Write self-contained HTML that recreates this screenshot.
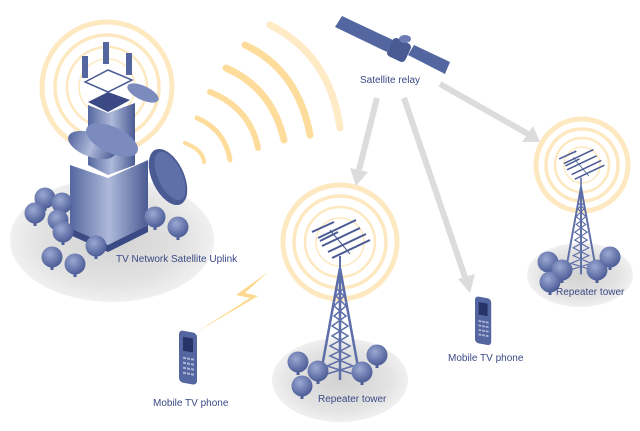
<!DOCTYPE html>
<html><head><meta charset="utf-8"><style>
html,body{margin:0;padding:0;background:#fff;}
svg{display:block}
text{font-family:"Liberation Sans",sans-serif;font-size:10px;fill:#3b4a84}
</style></head><body>
<svg width="640" height="431" viewBox="0 0 640 431" xmlns="http://www.w3.org/2000/svg">
<defs>
<radialGradient id="gnd" cx="50%" cy="50%" r="50%">
<stop offset="0" stop-color="#d2d2d2"/><stop offset="0.7" stop-color="#e2e2e2"/><stop offset="1" stop-color="#f0f0f0"/>
</radialGradient>
<linearGradient id="bl" x1="0" x2="1"><stop offset="0" stop-color="#55679f"/><stop offset="0.5" stop-color="#aeb9da"/><stop offset="1" stop-color="#4a5b93"/></linearGradient>
<radialGradient id="tree" cx="40%" cy="35%" r="65%"><stop offset="0" stop-color="#9aa8d2"/><stop offset="1" stop-color="#4d5e98"/></radialGradient>
<g id="tr"><rect x="-1.5" y="5" width="3" height="8" fill="#4d5e98"/><circle r="10.5" fill="url(#tree)"/></g>
<g id="tower">
<path d="M0,0 L-20,110 M0,0 L20,110 M0,0 L0,112 M-3,10 L3,10" stroke="#5d6ea8" stroke-width="2.5" fill="none"/>
<path d="M-4,20 L4,28 L-6,38 L6,48 L-8,58 L8,68 L-10,78 L10,88 L-13,98 L13,106 M4,20 L-4,28 L6,38 L-6,48 L8,58 L-8,68 L10,78 L-10,88 L13,98 L-13,106" stroke="#5d6ea8" stroke-width="1.5" fill="none"/>
<path d="M0,0 L0,-12" stroke="#5d6ea8" stroke-width="2"/>
<path d="M-22,-30 L16,-48 M-18,-22 L20,-40 M-12,-16 L26,-34 M-8,-10 L30,-28 M-28,-36 L-6,-46 M-20,-27 L-2,-36" stroke="#4a5b93" stroke-width="2" fill="none"/>
<path d="M-10,-38 L10,-14" stroke="#4a5b93" stroke-width="1"/>
</g>
<g id="phone">
<rect x="0" y="0" width="18" height="52" rx="4" fill="#5466a0" transform="skewY(10)"/>
<rect x="4" y="6" width="10" height="14" fill="#27346a" transform="skewY(10)"/>
<g fill="#aab5d8" transform="skewY(10)">
<rect x="4" y="26" width="3" height="2"/><rect x="8" y="26" width="3" height="2"/><rect x="12" y="26" width="3" height="2"/>
<rect x="4" y="31" width="3" height="2"/><rect x="8" y="31" width="3" height="2"/><rect x="12" y="31" width="3" height="2"/>
<rect x="4" y="36" width="3" height="2"/><rect x="8" y="36" width="3" height="2"/><rect x="12" y="36" width="3" height="2"/>
<rect x="4" y="41" width="3" height="2"/><rect x="8" y="41" width="3" height="2"/><rect x="12" y="41" width="3" height="2"/>
</g>
</g>
</defs>

<ellipse cx="112" cy="240" rx="102" ry="62" fill="url(#gnd)"/>
<ellipse cx="340" cy="380" rx="68" ry="42" fill="url(#gnd)"/>
<ellipse cx="580" cy="275" rx="53" ry="32" fill="url(#gnd)"/>

<g fill="none" stroke="#fde8c0">
<circle cx="107" cy="87" r="65" stroke-width="5"/>
<circle cx="107" cy="87" r="52" stroke-width="3.5"/>
<circle cx="107" cy="87" r="40" stroke-width="2.5"/>
<circle cx="107" cy="87" r="28" stroke-width="1.5"/>
</g>
<g fill="none" stroke="#fde8c0">
<circle cx="340" cy="242" r="57" stroke-width="5"/>
<circle cx="340" cy="242" r="46" stroke-width="3.5"/>
<circle cx="340" cy="242" r="35" stroke-width="2.5"/>
<circle cx="340" cy="242" r="24" stroke-width="1.5"/>
</g>
<g fill="none" stroke="#fde8c0">
<circle cx="582" cy="165" r="46" stroke-width="5"/>
<circle cx="582" cy="165" r="36" stroke-width="3.5"/>
<circle cx="582" cy="165" r="27" stroke-width="2.5"/>
<circle cx="582" cy="165" r="18" stroke-width="1.5"/>
</g>

<g fill="none" stroke="#fddc9c" stroke-linecap="round">
<path d="M185,143 Q203,150 204,162" stroke-width="4"/>
<path d="M197,118 Q225,130 230,160" stroke-width="5"/>
<path d="M210,92 Q250,108 258,148" stroke-width="6"/>
<path d="M226,68 Q272,88 284,140" stroke-width="7"/>
<path d="M245,45 Q298,70 310,135" stroke-width="7"/>
<path d="M270,25 Q330,55 340,128" stroke-width="7" opacity="0.6"/>
</g>

<g stroke="#dcdcdc" stroke-width="6" fill="#dcdcdc">
<line x1="377" y1="98" x2="359" y2="170"/>
<polygon points="350,168 368,172 356,186" stroke="none"/>
<line x1="404" y1="98" x2="466" y2="280"/>
<polygon points="458,279 475,274 470,293" stroke="none"/>
<line x1="440" y1="84" x2="528" y2="134"/>
<polygon points="522,142 533,126 540,142" stroke="none"/>
</g>

<g>
<polygon points="70,165 108,178 148,160 148,225 108,245 70,228" fill="url(#bl)"/>
<polygon points="70,228 108,245 148,225 148,232 108,252 70,235" fill="#3b4a84"/>
<polygon points="88,105 108,113 135,103 135,165 108,175 88,165" fill="url(#bl)"/>
<polygon points="88,102 108,92 130,100 108,112" fill="#3b4a84"/>
<polygon points="85,82 108,70 132,80 108,92" fill="none" stroke="#4a5b93" stroke-width="1.5"/>
<rect x="82" y="56" width="6" height="22" fill="#5466a0"/>
<rect x="103" y="42" width="6" height="22" fill="#5466a0"/>
<rect x="126" y="53" width="6" height="22" fill="#5466a0"/>
<ellipse cx="92" cy="145" rx="25" ry="12" transform="rotate(20 92 145)" fill="url(#bl)"/>
<ellipse cx="112" cy="140" rx="28" ry="13" transform="rotate(25 112 140)" fill="#7b8bbe"/>
<ellipse cx="143" cy="93" rx="17" ry="7" transform="rotate(25 143 93)" fill="#7b8bbe"/>
<ellipse cx="168" cy="177" rx="16" ry="30" transform="rotate(-25 168 177)" fill="#4a5b93"/>
<ellipse cx="170" cy="176" rx="12" ry="26" transform="rotate(-25 170 176)" fill="#5f70a8"/>
</g>
<g>
<use href="#tr" x="45" y="198"/><use href="#tr" x="62" y="203"/><use href="#tr" x="35" y="213"/>
<use href="#tr" x="58" y="220"/><use href="#tr" x="63" y="232"/><use href="#tr" x="52" y="257"/>
<use href="#tr" x="75" y="264"/><use href="#tr" x="96" y="246"/><use href="#tr" x="155" y="217"/>
<use href="#tr" x="178" y="227"/>
</g>
<text x="116" y="262">TV Network Satellite Uplink</text>

<use href="#tower" x="340" y="268"/>
<use href="#tr" x="298" y="362"/><use href="#tr" x="318" y="371"/><use href="#tr" x="302" y="386"/>
<use href="#tr" x="362" y="372"/><use href="#tr" x="377" y="355"/>
<text x="318" y="402">Repeater tower</text>

<g transform="translate(581,187) scale(0.78)"><use href="#tower"/></g>
<use href="#tr" x="548" y="262"/><use href="#tr" x="562" y="270"/><use href="#tr" x="550" y="282"/>
<use href="#tr" x="597" y="270"/><use href="#tr" x="610" y="257"/>
<text x="556" y="295">Repeater tower</text>

<g>
<polygon points="335,27 342,16 393,40 387,52" fill="#5466a0"/>
<polygon points="408,55 414,45 450,62 445,74" fill="#5466a0"/>
<rect x="389" y="40" width="20" height="20" rx="4" fill="#4a5b93" transform="rotate(25 399 50)"/>
<ellipse cx="405" cy="39" rx="6" ry="4" fill="#6d7db3"/>
</g>
<text x="360" y="83">Satellite relay</text>

<polygon points="195,333 250,298 236,295 268,272 245,293 258,296" fill="#fdd98f"/>

<use href="#phone" x="179" y="330"/>
<text x="153" y="406">Mobile TV phone</text>
<g transform="translate(475,296) scale(0.9)"><use href="#phone"/></g>
<text x="448" y="361">Mobile TV phone</text>
</svg>
</body></html>
